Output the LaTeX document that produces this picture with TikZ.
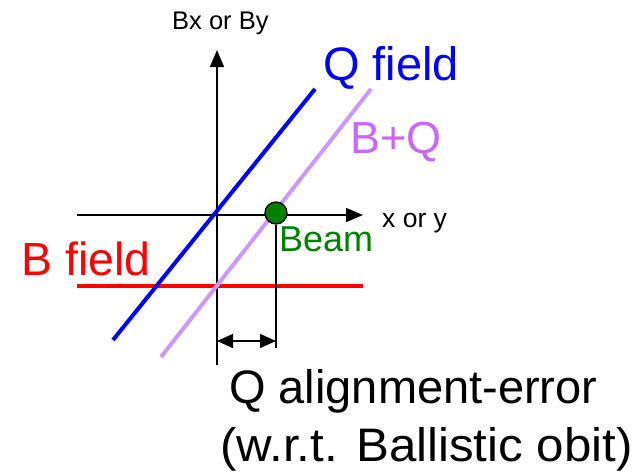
\documentclass[tikz,border=0pt]{standalone}
\usepackage{fontspec}
\setmainfont{Liberation Sans}
\usepackage{graphicx}
\usepackage{tikz}
\usetikzlibrary{arrows.meta,positioning}
\definecolor{qblue}{RGB}{0,0,255}
\definecolor{bred}{RGB}{255,0,0}
\definecolor{bqline}{RGB}{204,153,255}
\definecolor{bqtext}{RGB}{204,102,255}
\definecolor{beamgreen}{RGB}{0,128,0}

\begin{document}
\begin{tikzpicture}[
    x=1pt, y=-1pt,
    lbl/.style={inner sep=0pt, anchor=base west},
    axis/.style={line width=1.5pt, -{Triangle[length=17pt,width=14pt]}},
    fieldline/.style={line width=4pt},
    dim/.style={line width=1.3pt, {Triangle[length=16pt,width=14pt]}-{Triangle[length=16pt,width=14pt]}}
]
\useasboundingbox (0,0) rectangle (638,472);

% axes
\coordinate (yb) at (217,365);
\coordinate (yt) at (217,50);
\coordinate (xl) at (77,215);
\coordinate (xr) at (363,215);
\draw[axis] (yb) -- (yt);
\draw[axis] (xl) -- (xr);

% field lines
\coordinate (qa) at (113,340);
\coordinate (qb) at (315,89);
\coordinate (sa) at (161,357);
\coordinate (sb) at (371,89);
\coordinate (ra) at (77,286);
\coordinate (rb) at (363,286);
\draw[fieldline, bred] (ra) -- (rb);
\draw[fieldline, qblue] (qa) -- (qb);
\draw[fieldline, bqline] (sa) -- (sb);

% beam and offset
\node[circle, draw, line width=1.3pt, fill=beamgreen, minimum size=22pt, inner sep=0pt] (beam) at (276,213) {};
\coordinate (bd) at (276,348);
\draw[line width=1.3pt] (beam.south) -- (bd);
\coordinate (da) at (217,341);
\coordinate (db) at (276,341);
\draw[dim] (da) -- (db);

% labels
\node[lbl, font=\fontsize{25.5}{30}\selectfont] (bxby) at (172,29) {Bx or By};
\node[lbl, font=\fontsize{26.5}{31}\selectfont] (xory) at (382,227) {x or y};
\node[lbl, font=\fontsize{47}{55}\selectfont, text=qblue] (qfield) at (323,80) {Q field};
\node[lbl, font=\fontsize{45}{53}\selectfont, text=bqtext] (bqlbl) at (350,153) {B+Q};
\node[lbl, font=\fontsize{36}{42}\selectfont, text=beamgreen] (beamlbl) at (279,251) {Beam};
\node[lbl, font=\fontsize{46.5}{55}\selectfont, text=bred] (bfield) at (21,275) {B field};
\node[lbl, font=\fontsize{47}{55}\selectfont] (err1) at (229,403) {Q alignment-error};
\node[lbl, font=\fontsize{47}{55}\selectfont] (err2) at (220,461) {\scalebox{1.048}[1]{(w.r.t. Ballistic obit)}};
\end{tikzpicture}
\end{document}
